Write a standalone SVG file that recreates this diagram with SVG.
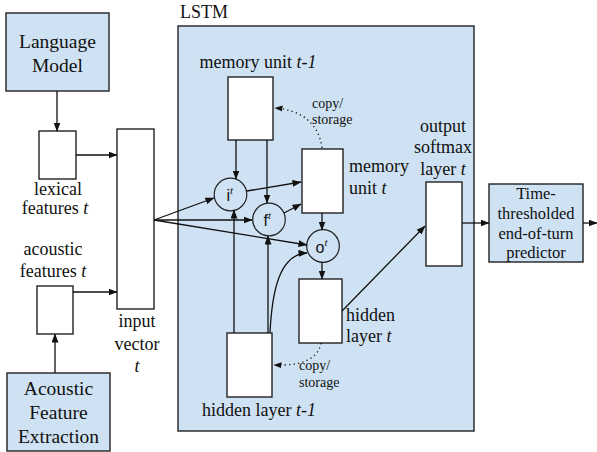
<svg xmlns="http://www.w3.org/2000/svg" width="597" height="452" viewBox="0 0 597 452">
<style>
.blue{fill:#cfe2f3;stroke:#222;stroke-width:1.4}
.box{fill:#fff;stroke:#222;stroke-width:1.4}
.gate{fill:#cfe2f3;stroke:#222;stroke-width:1.2}
.ln{fill:none;stroke:#111;stroke-width:1.3}
.arr{marker-end:url(#ah)}
.dot{fill:none;stroke:#111;stroke-width:1.3;stroke-dasharray:1.3 3.2;marker-end:url(#ah2)}
text{font-family:"Liberation Serif","Times New Roman",serif;fill:#111}
.t18{font-size:18px}
.t19{font-size:19.5px}
.t16{font-size:16.5px}
.t14{font-size:14px}
.g{font-family:"Liberation Sans",Arial,sans-serif;font-size:16px}
.sup{font-family:"Liberation Serif","Times New Roman",serif;font-style:italic;font-size:11px}
.mid{text-anchor:middle}
</style>
<defs>
<marker id="ah" markerWidth="9" markerHeight="7" refX="8.5" refY="3.5" orient="auto" markerUnits="userSpaceOnUse">
<path d="M0,0 L9,3.5 L0,7 Z" fill="#111"/>
</marker>
<marker id="ah2" markerWidth="8" markerHeight="7" refX="7.5" refY="3.5" orient="auto" markerUnits="userSpaceOnUse">
<path d="M0,0.5 L8,3.5 L0,6.5 Z" fill="#111"/>
</marker>
</defs>

<g id="lstm">
<rect class="blue" x="178" y="26" width="296" height="405"/>
<text class="t18" x="180" y="18">LSTM</text>
</g>

<g id="language-model">
<rect class="blue" x="6" y="13" width="103" height="78"/>
<text class="t19 mid" x="57.5" y="48">Language</text>
<text class="t19 mid" x="57.5" y="72">Model</text>
</g>

<g id="lexical">
<rect class="box" x="39" y="131" width="37" height="48"/>
<text class="t18 mid" x="58" y="195">lexical</text>
<text class="t18 mid" x="55" y="214">features <tspan font-style="italic">t</tspan></text>
</g>

<g id="acoustic">
<rect class="box" x="37" y="286" width="36" height="48"/>
<text class="t18 mid" x="53" y="255">acoustic</text>
<text class="t18 mid" x="53" y="277">features <tspan font-style="italic">t</tspan></text>
</g>

<g id="acoustic-feature-extraction">
<rect class="blue" x="7" y="373" width="103" height="78"/>
<text class="t19 mid" x="58.5" y="395">Acoustic</text>
<text class="t19 mid" x="58.5" y="419">Feature</text>
<text class="t19 mid" x="58.5" y="443">Extraction</text>
</g>

<g id="input-vector">
<rect class="box" x="117" y="129" width="37" height="180"/>
<text class="t18 mid" x="137" y="327">input</text>
<text class="t18 mid" x="137" y="350">vector</text>
<text class="t18 mid" x="137" y="372" font-style="italic">t</text>
</g>

<g id="memory-unit-t-1">
<rect class="box" x="228" y="77" width="45" height="63"/>
<text class="t18 mid" x="258" y="68">memory unit <tspan font-style="italic">t-1</tspan></text>
</g>

<g id="memory-unit-t">
<rect class="box" x="302" y="149" width="41" height="64"/>
<text class="t18" x="349" y="172">memory</text>
<text class="t18" x="349" y="194">unit <tspan font-style="italic">t</tspan></text>
</g>

<g id="gate-i">
<circle class="gate" cx="230.5" cy="194.5" r="16.3"/>
<text class="g" x="226.5" y="201">i<tspan class="sup" dy="-7">t</tspan></text>
</g>
<g id="gate-f">
<circle class="gate" cx="269" cy="219.5" r="16.3"/>
<text class="g" x="263.5" y="226">f<tspan class="sup" dy="-7">t</tspan></text>
</g>
<g id="gate-o">
<circle class="gate" cx="323" cy="246" r="16.3"/>
<text class="g" x="315.5" y="252.5">o<tspan class="sup" dy="-7">t</tspan></text>
</g>

<g id="hidden-layer-t">
<rect class="box" x="299" y="279" width="43" height="64"/>
<text class="t18" x="346" y="321">hidden</text>
<text class="t18" x="346" y="342">layer <tspan font-style="italic">t</tspan></text>
</g>

<g id="hidden-layer-t-1">
<rect class="box" x="227" y="333" width="45" height="64"/>
<text class="t18 mid" x="259" y="416">hidden layer <tspan font-style="italic">t-1</tspan></text>
</g>

<g id="output-softmax">
<rect class="box" x="426" y="182" width="36" height="84"/>
<text class="t18 mid" x="443" y="132">output</text>
<text class="t18 mid" x="443" y="153">softmax</text>
<text class="t18 mid" x="443" y="175">layer <tspan font-style="italic">t</tspan></text>
</g>

<g id="predictor">
<rect class="blue" x="489" y="184" width="94" height="78"/>
<text class="t16 mid" x="536" y="199">Time-</text>
<text class="t16 mid" x="536" y="219">thresholded</text>
<text class="t16 mid" x="536" y="239">end-of-turn</text>
<text class="t16 mid" x="536" y="258">predictor</text>
</g>

<g id="connectors">
<path class="ln arr" d="M57,91 L57,131"/>
<path class="ln arr" d="M55,373 L55,334"/>
<path class="ln arr" d="M76,155 L117,155"/>
<path class="ln arr" d="M73,292 L117,292"/>
<path class="ln arr" d="M154,220 L214,198"/>
<path class="ln arr" d="M154,220 L252,220"/>
<path class="ln arr" d="M154,220 L307,245"/>
<path class="ln arr" d="M236,140 L236,179"/>
<path class="ln arr" d="M267,140 L267,203"/>
<path class="ln arr" d="M234,333 L234,210"/>
<path class="ln arr" d="M268,333 L268,236"/>
<path class="ln arr" d="M270,333 C272,290 280,254 307,253"/>
<path class="ln arr" d="M247,191 L301,182"/>
<path class="ln arr" d="M284,213 L301,204"/>
<path class="ln arr" d="M322,213 L322,230"/>
<path class="ln arr" d="M322,262 L322,279"/>
<path class="ln arr" d="M342,311 L425,226"/>
<path class="ln arr" d="M462,223 L489,223"/>
<path class="ln arr" d="M583,223 L597,223"/>
<path class="dot" d="M322,148 C319,124 302,110 275,108"/>
<path class="dot" d="M321,343 C318,360 300,366 274,365"/>
<text class="t14" x="312" y="108">copy/</text>
<text class="t14" x="312" y="124">storage</text>
<text class="t14" x="299" y="370">copy/</text>
<text class="t14" x="299" y="387">storage</text>
</g>
</svg>
